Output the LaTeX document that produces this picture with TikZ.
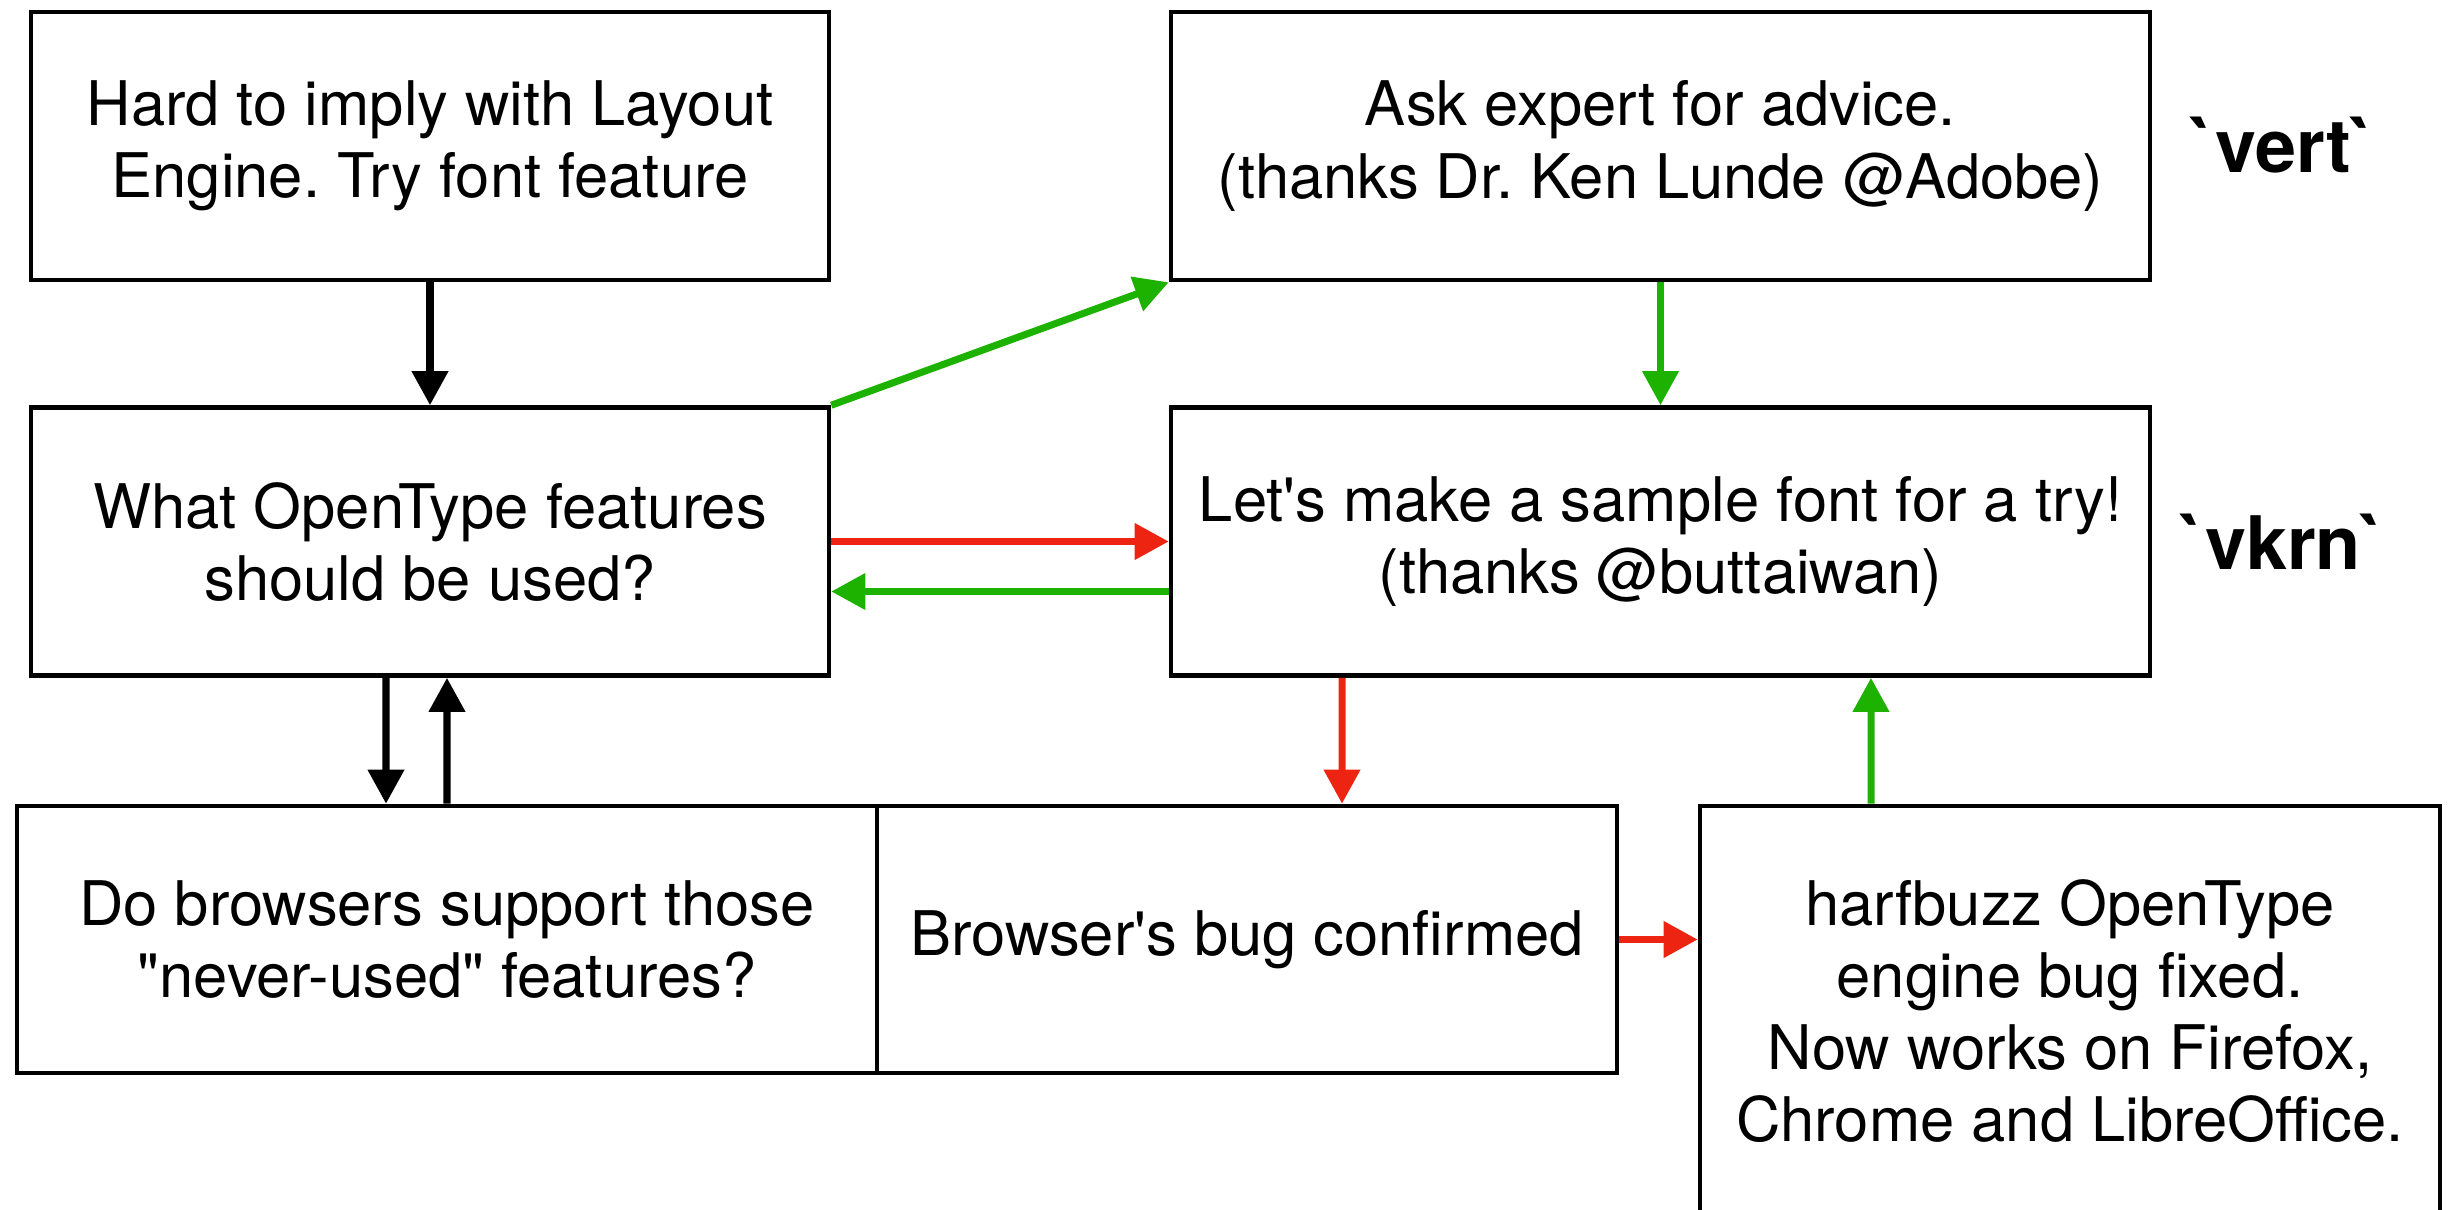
\documentclass[tikz,border=0pt]{standalone}
\usepackage{fontspec}
\setmainfont{TeX Gyre Heros}
\usetikzlibrary{arrows.meta}
\definecolor{flowgreen}{RGB}{30,178,0}
\definecolor{flowred}{RGB}{238,36,18}
\frenchspacing
\begin{document}
\begin{tikzpicture}[
		font=\fontsize{17.5pt}{20.5pt}\selectfont,
		box/.style={draw, line width=1.3pt, inner sep=0pt, align=center, minimum height=2.68cm},
		flow/.style={line width=2pt, -{Triangle[length=3.4mm,width=3.5mm]}},
		tag/.style={font=\fontsize{21pt}{24pt}\selectfont\bfseries}
	]
	\clip (0,0) rectangle (24.54,-12.09);
	\node[box, minimum width=7.98cm] (hard) at (4.30,-1.46) {Hard to imply with Layout\\Engine. Try font feature};
	\node[box, minimum width=9.79cm] (expert) at (16.605,-1.46) {Ask expert for advice.\\(thanks Dr. Ken Lunde @Adobe)};
	\node[box, minimum width=7.98cm] (features) at (4.30,-5.415) {What OpenType features\\should be used?};
	\node[box, minimum width=9.79cm] (sample) at (16.605,-5.415) {Let\textquotesingle s make a sample font for a try!\\(thanks @buttaiwan)};
	\node[box, minimum width=8.60cm, minimum height=2.67cm] (support) at (4.47,-9.395) {Do browsers support those\\\textquotedbl never-used\textquotedbl{} features?};
	\node[box, minimum width=7.40cm, minimum height=2.67cm] (bug) at (12.47,-9.395) {Browser\textquotesingle s bug confirmed};
	\node[box, minimum width=7.40cm, minimum height=4.10cm] (fixed) at (20.70,-10.11) {harfbuzz OpenType\\engine bug fixed.\\Now works on Firefox,\\Chrome and LibreOffice.};
	\node[tag] (vert) at (22.83,-1.45) {\textasciigrave vert\textasciigrave};
	\node[tag] (vkrn) at (22.83,-5.42) {\textasciigrave vkrn\textasciigrave};

	\draw[flow] (hard.south) -- (features.north);
	\draw[flow] ([xshift=-4.4mm]features.south) -- ([xshift=-6.1mm]support.north);
	\draw[flow] (support.north) -- ([xshift=1.7mm]features.south);
	\draw[flow, flowgreen] (features.north east) -- (expert.south west);
	\draw[flow, flowred] (features.east) -- (sample.west);
	\draw[flow, flowgreen] ([yshift=-5mm]sample.west) -- ([yshift=-5mm]features.east);
	\draw[flow, flowgreen] (expert.south) -- (sample.north);
	\draw[flow, flowred] ([xshift=-31.85mm]sample.south) -- ([xshift=9.5mm]bug.north);
	\draw[flow, flowgreen] ([xshift=-19.9mm]fixed.north) -- ([xshift=21.05mm]sample.south);
	\draw[flow, flowred] (bug.east) -- (bug.east -| fixed.west);
\end{tikzpicture}
\end{document}
